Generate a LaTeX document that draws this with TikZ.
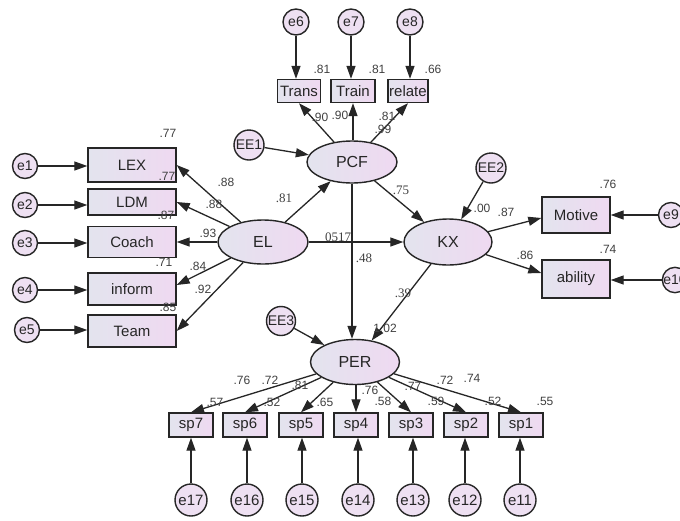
\documentclass[tikz,border=0pt]{standalone}
\usepackage{fontspec}
\setmainfont{Liberation Sans}
\newfontfamily\sernum{Liberation Serif}
\usetikzlibrary{shapes.geometric,arrows.meta}
\definecolor{boxL}{HTML}{E3E4EE}
\definecolor{boxR}{HTML}{EFD9F1}
\definecolor{circF}{HTML}{EEE0F2}
\definecolor{numc}{HTML}{404040}
\begin{document}
\begin{tikzpicture}[x=1pt,y=-1pt,
  obs/.style={rectangle,draw=black!85,line width=1.4pt,left color=boxL,right color=boxR,inner sep=0pt,text=black!85,font=\fontsize{15}{15}\selectfont},
  lat/.style={ellipse,draw=black!85,line width=1.4pt,left color=boxL,right color=boxR,inner sep=0pt,text=black!85,font=\fontsize{16}{16}\selectfont},
  err/.style={circle,draw=black!85,line width=1.4pt,fill=circF,inner sep=0pt,text=black!85,font=\fontsize{14}{14}\selectfont},
  arr/.style={-{Triangle[length=13pt,width=9pt]},line width=1.3pt,draw=black!85},
  num/.style={text=numc,inner sep=0pt,font=\fontsize{12}{12}\selectfont},
  snum/.style={text=numc,inner sep=0pt,font=\sernum\fontsize{13}{13}\selectfont}]
\useasboundingbox (0,0) rectangle (680,520);
\clip (0,0) rectangle (680,520);
\fill[white] (0,0) rectangle (680,520);
% top indicators
\node[err,minimum size=26pt] (e6) at (296,22) {e6};
\node[err,minimum size=26pt] (e7) at (351,22) {e7};
\node[err,minimum size=26pt] (e8) at (410,22) {e8};
\node[obs,minimum width=43pt,minimum height=23pt] (Trans) at (299,91) {Trans};
\node[obs,minimum width=44pt,minimum height=23pt] (Train) at (353,91) {Train};
\node[obs,minimum width=40pt,minimum height=23pt] (relate) at (408,91) {relate};
% latents
\node[lat,minimum width=90pt,minimum height=42pt] (PCF) at (352,162) {PCF};
\node[lat,minimum width=90pt,minimum height=44pt] (EL) at (263,242) {EL};
\node[lat,minimum width=88pt,minimum height=46pt] (KX) at (448,242) {KX};
\node[lat,minimum width=89pt,minimum height=45pt] (PER) at (355,362) {PER};
\node[err,minimum size=30pt] (EE1) at (249,145) {EE1};
\node[err,minimum size=30pt] (EE2) at (491,168) {EE2};
\node[err,minimum size=29pt] (EE3) at (281,321) {EE3};
% left indicators
\node[obs,minimum width=88pt,minimum height=34pt] (LEX) at (132,165) {LEX};
\node[obs,minimum width=88pt,minimum height=26pt] (LDM) at (132,202) {LDM};
\node[obs,minimum width=88pt,minimum height=31pt] (Coach) at (132,242) {Coach};
\node[obs,minimum width=88pt,minimum height=32pt] (inform) at (132,289) {inform};
\node[obs,minimum width=88pt,minimum height=32pt] (Team) at (132,331) {Team};
\node[err,minimum size=25pt] (e1) at (25,166) {e1};
\node[err,minimum size=25pt] (e2) at (25,205) {e2};
\node[err,minimum size=25pt] (e3) at (25,243) {e3};
\node[err,minimum size=25pt] (e4) at (25,290) {e4};
\node[err,minimum size=25pt] (e5) at (27,330) {e5};
% right indicators
\node[obs,minimum width=68pt,minimum height=36pt] (Motive) at (576,215) {Motive};
\node[obs,minimum width=68pt,minimum height=38pt] (ability) at (576,279) {ability};
\node[err,minimum size=25pt] (e9) at (671,215) {e9};
\node[err,minimum size=25pt] (e10) at (675,280) {e10};
% bottom indicators
\foreach \n/\x in {7/191,6/245,5/301,4/356,3/411,2/466,1/521}{
  \node[obs,minimum width=44pt,minimum height=24pt] (sp\n) at (\x,425) {sp\n};
}
\foreach \n/\x in {17/191,16/247,15/302,14/358,13/413,12/465,11/520}{
  \node[err,minimum size=32pt,font=\fontsize{15}{15}\selectfont] (e\n) at (\x,500) {e\n};
}
% error arrows
\draw[arr] (e6) -- (Trans.north -| e6);
\draw[arr] (e7) -- (Train.north -| e7);
\draw[arr] (e8) -- (relate.north -| e8);
\draw[arr] (e1) -- (LEX.west |- e1);
\draw[arr] (e2) -- (LDM.west |- e2);
\draw[arr] (e3) -- (Coach.west |- e3);
\draw[arr] (e4) -- (inform.west |- e4);
\draw[arr] (e5) -- (Team.west |- e5);
\draw[arr] (e9) -- (Motive.east |- e9);
\draw[arr] (e10) -- (ability.east |- e10);
\draw[arr] (e17) -- (sp7.south -| e17);
\draw[arr] (e16) -- (sp6.south -| e16);
\draw[arr] (e15) -- (sp5.south -| e15);
\draw[arr] (e14) -- (sp4.south -| e14);
\draw[arr] (e13) -- (sp3.south -| e13);
\draw[arr] (e12) -- (sp2.south -| e12);
\draw[arr] (e11) -- (sp1.south -| e11);
\draw[arr] (EE1) -- (PCF);
\draw[arr] (EE2) -- (KX);
\draw[arr] (EE3) -- (PER);
% loadings
\draw[arr] (PCF) -- (Trans.south);
\draw[arr] (PCF.north -| Train) -- (Train.south);
\draw[arr] (PCF) -- (relate.south);
\draw[arr] (EL) -- (LEX.east);
\draw[arr] (EL) -- (LDM.east);
\draw[arr] (EL) -- (Coach.east);
\draw[arr] (EL) -- ([yshift=4pt]inform.east);
\draw[arr] (EL) -- (Team.east);
\draw[arr] (KX) -- ([yshift=-3pt]Motive.west);
\draw[arr] (KX) -- ([yshift=6pt]ability.west);
\foreach \n in {7,6,5,3,2,1}{ \draw[arr] (PER) -- (sp\n.north); }
\draw[arr] (PER.south -| sp4) -- (sp4.north);
% structural
\draw[arr] (EL) -- (PCF);
\draw[arr] (EL) -- (KX);
\draw[arr] (PCF) -- (KX);
\draw[arr] (PCF.south) -- (PER.north -| PCF.south);
\draw[arr] (KX) -- (PER);
% R2 labels
\node[num] at (322,69) {.81};
\node[num] at (377,69) {.81};
\node[num] at (433,69) {.66};
\node[num] at (168,133) {.77};
\node[num] at (167,176) {.77};
\node[num] at (166,215) {.87};
\node[num] at (164,262) {.71};
\node[num] at (168,307) {.85};
\node[num] at (608,184) {.76};
\node[num] at (608,249) {.74};
\node[num] at (215,402) {.57};
\node[num] at (272,402) {.52};
\node[num] at (325,402) {.65};
\node[num] at (383,401) {.58};
\node[num] at (436,401) {.59};
\node[num] at (493,401) {.52};
\node[num] at (545,401) {.55};
% path labels
\node[num] at (320,117) {.90};
\node[num] at (340,115) {.90};
\node[num] at (387,116) {.81};
\node[num] at (383,129) {.99};
\node[num] at (226,182) {.88};
\node[num] at (214,204) {.88};
\node[num] at (208,233) {.93};
\node[num] at (198,266) {.84};
\node[num] at (203,289) {.92};
\node[snum] at (284,198) {.81};
\node[snum] at (338,237) {0517};
\node[snum] at (364,258) {.48};
\node[snum] at (401,190) {.75};
\node[snum] at (403,293) {.39};
\node[num] at (385,328) {1.02};
\node[num] at (482,208) {.00};
\node[num] at (506,212) {.87};
\node[num] at (525,255) {.86};
\node[num] at (242,380) {.76};
\node[num] at (270,380) {.72};
\node[num] at (300,385) {.81};
\node[num] at (370,390) {.76};
\node[num] at (413,386) {.77};
\node[num] at (445,380) {.72};
\node[num] at (472,378) {.74};
\end{tikzpicture}
\end{document}
